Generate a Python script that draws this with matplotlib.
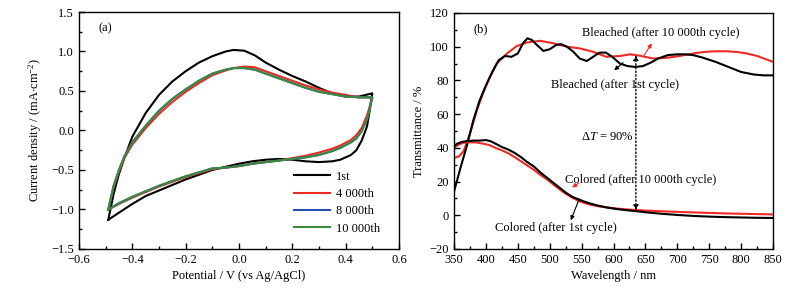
import matplotlib
matplotlib.use("Agg")
import matplotlib.pyplot as plt
from matplotlib.ticker import MultipleLocator

plt.rcParams['font.family'] = ['Liberation Serif', 'DejaVu Serif']
plt.rcParams['font.size'] = 9
plt.rcParams['mathtext.fontset'] = 'custom'
plt.rcParams['mathtext.rm'] = 'Liberation Serif'
plt.rcParams['mathtext.it'] = 'Liberation Serif:italic'
plt.rcParams['axes.linewidth'] = 1.0

# ---- (a) CV curves: anodic branch then cathodic branch ----
v_up = [-0.49, -0.47, -0.45, -0.43, -0.40, -0.35, -0.30, -0.25, -0.20, -0.15, -0.10, -0.05,
        -0.02, 0.02, 0.06, 0.10, 0.15, 0.20, 0.25, 0.30, 0.35, 0.40, 0.45, 0.50]
v_down = [0.50, 0.49, 0.48, 0.46, 0.44, 0.42, 0.38, 0.35, 0.30, 0.25, 0.20, 0.15, 0.10, 0.05,
          0.0, -0.05, -0.10, -0.15, -0.20, -0.25, -0.30, -0.35, -0.40, -0.45, -0.49]

j1_up = [-1.13, -0.80, -0.55, -0.35, -0.08, 0.22, 0.45, 0.62, 0.75, 0.86, 0.94, 1.00,
         1.02, 1.01, 0.95, 0.86, 0.77, 0.69, 0.62, 0.54, 0.47, 0.43, 0.43, 0.47]
j1_down = [0.47, 0.25, 0.05, -0.13, -0.25, -0.31, -0.37, -0.39, -0.40, -0.39, -0.37, -0.36,
           -0.37, -0.39, -0.42, -0.46, -0.50, -0.56, -0.62, -0.69, -0.76, -0.83, -0.93, -1.04, -1.13]

j4000_up = [-1.00, -0.72, -0.52, -0.35, -0.18, 0.03, 0.21, 0.36, 0.49, 0.60, 0.70, 0.76,
            0.79, 0.81, 0.80, 0.75, 0.69, 0.63, 0.57, 0.52, 0.48, 0.45, 0.42, 0.42]
j4000_down = [0.42, 0.30, 0.19, 0.03, -0.06, -0.12, -0.19, -0.23, -0.28, -0.32, -0.35, -0.38,
              -0.40, -0.42, -0.45, -0.47, -0.49, -0.54, -0.59, -0.65, -0.71, -0.78, -0.85, -0.93, -1.00]

j8000_up = [-1.00, -0.70, -0.50, -0.33, -0.15, 0.06, 0.25, 0.40, 0.52, 0.63, 0.72, 0.77,
            0.79, 0.79, 0.77, 0.72, 0.66, 0.60, 0.54, 0.49, 0.46, 0.43, 0.42, 0.42]
j8000_down = [0.42, 0.27, 0.14, -0.01, -0.10, -0.15, -0.22, -0.26, -0.31, -0.34, -0.36, -0.38,
              -0.40, -0.42, -0.45, -0.47, -0.48, -0.53, -0.58, -0.64, -0.70, -0.77, -0.84, -0.92, -1.00]

j10000_up = [-1.00, -0.70, -0.50, -0.33, -0.15, 0.06, 0.25, 0.40, 0.52, 0.63, 0.72, 0.77,
             0.79, 0.79, 0.77, 0.72, 0.66, 0.60, 0.54, 0.49, 0.46, 0.43, 0.42, 0.42]
j10000_down = [0.42, 0.27, 0.14, -0.01, -0.10, -0.15, -0.22, -0.26, -0.31, -0.34, -0.36, -0.38,
               -0.40, -0.42, -0.45, -0.47, -0.48, -0.53, -0.58, -0.64, -0.70, -0.77, -0.84, -0.92, -1.00]

cv_labels = ['1st', '4 000th', '8 000th', '10 000th']
cv_colors = ['black', '#ee2a24', '#2a4fb0', '#3b8a3e']

# ---- (b) transmittance spectra ----
wl_b1 = [350, 360, 370, 380, 390, 400, 410, 420, 430, 440, 450, 458, 465, 472, 480, 490, 500,
         510, 518, 527, 537, 547, 558, 568, 578, 588, 598, 610, 622, 634, 646, 658, 670, 685,
         700, 712, 725, 740, 760, 780, 800, 820, 835, 850]
t_b1 = [14, 28, 41, 56, 68, 77, 85, 92, 94.5, 94, 96, 102, 105, 104, 101, 97.5, 98.5,
        101, 101.5, 100, 97, 93, 91.5, 94, 96.5, 96.5, 94, 90, 88.5, 88, 88.5, 90.5, 93, 95,
        95.5, 95.5, 95, 93.5, 91, 88, 85, 83.5, 83, 83]

wl_b10000 = [350, 358, 365, 375, 386, 396, 406, 417, 433, 448, 464, 485, 506, 527, 547, 568,
             589, 610, 626, 642, 662, 683, 700, 715, 730, 746, 762, 777, 795, 809, 825, 850]
t_b10000 = [34, 35, 38, 48.5, 62.5, 73, 82, 90, 96, 100.3, 102.5, 103.5, 102, 100, 99, 97,
            94, 94.5, 95.5, 94.6, 93, 93.4, 94.3, 95.3, 96.3, 97, 97.3, 97.3, 96.8, 96, 94.5, 91]

wl_c1 = [350, 355, 362, 370, 380, 390, 400, 407, 415, 425, 435, 445, 455, 465, 475, 485, 495,
         505, 515, 525, 535, 545, 555, 565, 575, 590, 605, 620, 636, 655, 675, 700, 725, 750,
         775, 800, 825, 850]
t_c1 = [41, 42.5, 43.5, 44, 44.3, 44.3, 44.6, 44, 42.5, 40.5, 39, 37, 34.5, 31.5, 29, 25.5, 22.5,
        19.5, 16.5, 13.5, 11, 9.5, 8, 6.8, 5.8, 4.6, 3.7, 3.0, 2.4, 1.6, 0.9, 0.2, -0.4, -0.8,
        -1.1, -1.3, -1.5, -1.6]

wl_c10000 = [350, 357, 365, 375, 385, 395, 405, 415, 425, 435, 445, 455, 465, 475, 485, 495,
             505, 515, 525, 535, 545, 555, 565, 575, 590, 605, 620, 636, 655, 675, 700, 725,
             750, 775, 800, 825, 850]
t_c10000 = [40, 42, 43, 43.3, 43.2, 42.5, 41.7, 40, 38.5, 36.8, 34.5, 32, 29.5, 27, 24, 21.5,
            18.5, 15.5, 12.8, 10.5, 8.5, 7.2, 6.2, 5.4, 4.6, 4.0, 3.5, 3.1, 2.7, 2.4, 2.0, 1.7,
            1.4, 1.1, 0.9, 0.7, 0.5]


def style_axis(ax):
    ax.tick_params(which='both', direction='in', top=False, right=False, labelsize=9)
    ax.tick_params(which='major', length=4, width=1.0)
    ax.tick_params(which='minor', length=2.5, width=1.0)


fig = plt.figure(figsize=(8.05, 2.92), dpi=100)
ax1 = fig.add_axes([0.0981, 0.1473, 0.3975, 0.8116])
ax2 = fig.add_axes([0.564, 0.1473, 0.3963, 0.8082])

# (a)
cv_up = [j1_up, j4000_up, j8000_up, j10000_up]
cv_down = [j1_down, j4000_down, j8000_down, j10000_down]
for up, down, lab, col in zip(cv_up, cv_down, cv_labels, cv_colors):
    ax1.plot(v_up + v_down, up + down, color=col, lw=1.5, label=lab)

ax1.set_xlim(-0.6, 0.6)
ax1.set_ylim(-1.5, 1.5)
ax1.xaxis.set_major_locator(MultipleLocator(0.2))
ax1.xaxis.set_minor_locator(MultipleLocator(0.1))
ax1.yaxis.set_major_locator(MultipleLocator(0.5))
ax1.yaxis.set_minor_locator(MultipleLocator(0.25))
style_axis(ax1)
ax1.set_xlabel('Potential / V (vs Ag/AgCl)', labelpad=3)
ax1.set_ylabel(r'Current density / (mA$\cdot$cm$^{-2}$)', labelpad=5)
ax1.text(0.06, 0.93, '(a)', transform=ax1.transAxes, ha='left', va='center')
ax1.legend(loc='lower left', bbox_to_anchor=(0.655, 0.04), frameon=False,
           handlelength=2.9, labelspacing=0.42, handletextpad=0.5, borderaxespad=0)

# (b)
ax2.plot(wl_b10000, t_b10000, color='#ee2a24', lw=1.5)
ax2.plot(wl_b1, t_b1, color='black', lw=1.5)
ax2.plot(wl_c10000, t_c10000, color='#ee2a24', lw=1.5)
ax2.plot(wl_c1, t_c1, color='black', lw=1.5)

ax2.set_xlim(350, 850)
ax2.set_ylim(-20, 120)
ax2.xaxis.set_major_locator(MultipleLocator(50))
ax2.xaxis.set_minor_locator(MultipleLocator(25))
ax2.yaxis.set_major_locator(MultipleLocator(20))
ax2.yaxis.set_minor_locator(MultipleLocator(10))
style_axis(ax2)
ax2.set_xlabel('Wavelength / nm', labelpad=3)
ax2.set_ylabel('Transmittance / %', labelpad=3)
ax2.text(0.06, 0.93, '(b)', transform=ax2.transAxes, ha='left', va='center')

ax2.annotate('', xy=(635, 95), xytext=(635, 3),
             arrowprops=dict(arrowstyle='<|-|>', color='black', lw=1.0, ls=':',
                             mutation_scale=7, shrinkA=0, shrinkB=0))
ax2.text(590, 46.5, r'$\Delta T$ = 90%', ha='center', va='center')

ax2.text(674, 108, 'Bleached (after 10 000th cycle)', ha='center', va='center')
ax2.annotate('', xy=(660, 102), xytext=(648, 95),
             arrowprops=dict(arrowstyle='-|>', color='#ee2a24', lw=0.8,
                             mutation_scale=6, shrinkA=0, shrinkB=0))
ax2.text(602, 77, 'Bleached (after 1st cycle)', ha='center', va='center')
ax2.annotate('', xy=(601, 86), xytext=(615, 90.5),
             arrowprops=dict(arrowstyle='-|>', color='black', lw=0.8,
                             mutation_scale=6, shrinkA=0, shrinkB=0))
ax2.text(642, 21, 'Colored (after 10 000th cycle)', ha='center', va='center')
ax2.annotate('', xy=(535, 16.5), xytext=(545, 19),
             arrowprops=dict(arrowstyle='-|>', color='#ee2a24', lw=0.8,
                             mutation_scale=6, shrinkA=0, shrinkB=0))
ax2.text(510, -7.5, 'Colored (after 1st cycle)', ha='center', va='center')
ax2.annotate('', xy=(533, -3), xytext=(546, 9.5),
             arrowprops=dict(arrowstyle='-|>', color='black', lw=0.8,
                             mutation_scale=6, shrinkA=0, shrinkB=0))

fig.savefig('out.png', dpi=100)
